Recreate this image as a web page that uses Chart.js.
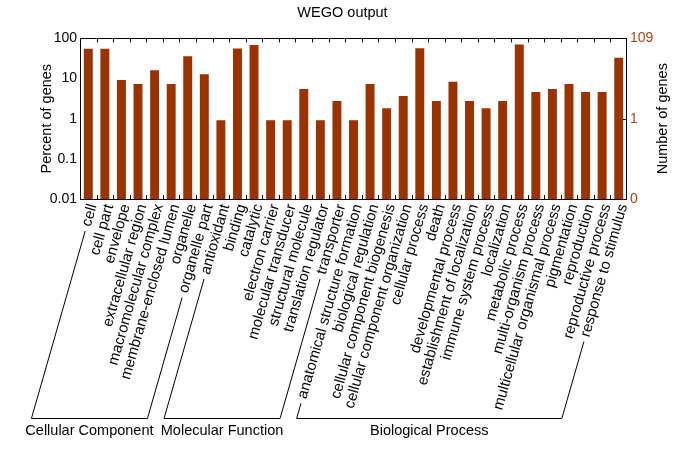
<!DOCTYPE html>
<html>
<head>
<meta charset="utf-8">
<script src="https://cdn.jsdelivr.net/npm/chart.js@4.4.1/dist/chart.umd.min.js"></script>
<style>
  html, body { margin: 0; padding: 0; background: #fff; }
</style>
</head>
<body>
<canvas id="wego" width="685" height="455"></canvas>
<script>
// GO terms (x axis), in plot order
const categories = [
  "cell", "cell part", "envelope", "extracellular region",
  "macromolecular complex", "membrane-enclosed lumen", "organelle", "organelle part",
  "antioxidant", "binding", "catalytic", "electron carrier",
  "molecular transducer", "structural molecule", "translation regulator", "transporter",
  "anatomical structure formation", "biological regulation", "cellular component biogenesis",
  "cellular component organization", "cellular process", "death", "developmental process",
  "establishment of localization", "immune system process", "localization",
  "metabolic process", "multi-organism process", "multicellular organismal process",
  "pigmentation", "reproduction", "reproductive process", "response to stimulus"
];

// percent of genes
const percentGenes = [
  55.0, 55.0, 9.2, 7.3,
  16.0, 7.3, 36.0, 12.8,
  0.92, 56.0, 68.0, 0.92,
  0.92, 5.5, 0.92, 2.75,
  0.92, 7.3, 1.83,
  3.67, 57.0, 2.75, 8.3,
  2.75, 1.83, 2.75,
  70.6, 4.6, 5.5,
  7.3, 4.6, 4.6, 33.0
];

// GO top-level groups
const groupNames = ["Cellular Component", "Molecular Function", "Biological Process"];
const groupFirst = [0, 8, 16];
const groupLast = [7, 15, 32];

// axis ticks
const leftTicks = [0.01, 0.1, 1, 10, 100];
const rightTicks = [0.01, 1, 100];
const rightTickLabels = ["0", "1", "109"];

const BAR = "#993300";
const FONT = "'Liberation Sans', Arial, Helvetica, sans-serif";
const ROT = 74;
const LABEL_SHIFT = 4.5;
const LABEL_SIZE = 15;

const decorations = {
  id: "decorations",
  afterDraw(chart) {
    const { ctx, chartArea: a, scales } = chart;
    const xs = scales.x;
    ctx.save();

    // plot box
    ctx.strokeStyle = "#000";
    ctx.lineWidth = 1;
    ctx.strokeRect(Math.round(a.left) + 0.5, Math.round(a.top) + 0.5,
      Math.round(a.right - a.left) - 1, Math.round(a.bottom - a.top));

    // inward tick marks at category boundaries
    ctx.beginPath();
    const n = categories.length;
    for (let i = 1; i < n; i++) {
      const x = Math.round((xs.getPixelForValue(i - 1) + xs.getPixelForValue(i)) / 2) + 0.5;
      ctx.moveTo(x, a.top);
      ctx.lineTo(x, a.top + 4);
      ctx.moveTo(x, a.bottom);
      ctx.lineTo(x, a.bottom - 4);
    }
    const y1 = Math.round(scales.y2.getPixelForValue(1)) + 0.5;
    ctx.moveTo(a.right, y1);
    ctx.lineTo(a.right - 4, y1);
    ctx.stroke();

    // axis titles
    ctx.fillStyle = "#000";
    ctx.font = "14.5px " + FONT;
    ctx.textAlign = "center";
    ctx.textBaseline = "middle";
    const midY = (a.top + a.bottom) / 2;
    ctx.save();
    ctx.translate(47, midY);
    ctx.rotate(-Math.PI / 2);
    ctx.fillText("Percent of genes", 0, 0);
    ctx.restore();
    ctx.save();
    ctx.translate(663, midY);
    ctx.rotate(-Math.PI / 2);
    ctx.fillText("Number of genes", 0, 0);
    ctx.restore();

    // group brackets under the rotated labels
    const th = ROT * Math.PI / 180;
    const lh = LABEL_SIZE * 1.2;
    const y0 = xs.top + xs.options.ticks.padding;
    const baseY = 418.5;
    ctx.font = LABEL_SIZE + "px " + FONT;
    const labelStart = (i, gap) => {
      const w = ctx.measureText(categories[i]).width;
      const px = xs.getPixelForValue(i) + LABEL_SHIFT;
      const sx = px - (w + gap) * Math.cos(th);
      const sy = y0 + lh / 2 * Math.cos(th) + (w + gap) * Math.sin(th);
      return [sx, sy];
    };
    const ends = groupNames.map((_, g) => [labelStart(groupFirst[g], 5), labelStart(groupLast[g], 5)]);
    ctx.font = "14.5px " + FONT;
    ctx.lineWidth = 1;
    for (let g = 0; g < groupNames.length; g++) {
      const [[ax, ay], [bx, by]] = ends[g];
      const axb = ax - (baseY - ay) / Math.tan(th);
      const bxb = bx - (baseY - by) / Math.tan(th);
      ctx.beginPath();
      ctx.moveTo(ax, ay);
      ctx.lineTo(axb, baseY);
      ctx.lineTo(bxb, baseY);
      ctx.lineTo(bx, by);
      ctx.stroke();
      ctx.fillText(groupNames[g], (axb + bxb) / 2, 431);
    }
    ctx.restore();
  }
};

new Chart(document.getElementById("wego"), {
  type: "bar",
  data: {
    labels: categories,
    datasets: [
      {
        label: "Percent of genes",
        data: percentGenes,
        backgroundColor: BAR,
        borderWidth: 0,
        barPercentage: 0.54,
        categoryPercentage: 1,
      },
    ],
  },
  options: {
    responsive: false,
    animation: false,
    devicePixelRatio: 1,
    layout: { padding: 0 },
    plugins: {
      legend: { display: false },
      tooltip: { enabled: false },
      title: {
        display: true,
        text: "WEGO output",
        color: "#000",
        font: { family: FONT, size: 14.5, weight: "normal" },
        padding: { top: 4, bottom: 17 },
      },
    },
    scales: {
      x: {
        type: "category",
        offset: true,
        grid: { display: false, drawTicks: false },
        border: { display: false },
        ticks: {
          autoSkip: false,
          minRotation: ROT,
          maxRotation: ROT,
          padding: 3,
          labelOffset: LABEL_SHIFT,
          color: "#000",
          font: { family: FONT, size: LABEL_SIZE },
        },
        afterFit: (s) => { s.height = 256; },
      },
      y: {
        type: "logarithmic",
        position: "left",
        min: 0.01,
        max: 100,
        grid: { display: false, drawTicks: false },
        border: { display: false },
        afterBuildTicks: (s) => { s.ticks = leftTicks.map((v) => ({ value: v })); },
        ticks: {
          padding: 3,
          color: "#000",
          font: { family: FONT, size: 14 },
          callback: (v) => String(v),
        },
        afterFit: (s) => { s.width = 80; },
      },
      y2: {
        type: "logarithmic",
        position: "right",
        min: 0.01,
        max: 100,
        grid: { display: false, drawTicks: false },
        border: { display: false },
        afterBuildTicks: (s) => { s.ticks = rightTicks.map((v) => ({ value: v })); },
        ticks: {
          padding: 3,
          color: "#a8441c",
          font: { family: FONT, size: 14 },
          callback: (v, i) => rightTickLabels[i],
        },
        afterFit: (s) => { s.width = 58; },
      },
    },
  },
  plugins: [decorations],
});
</script>
</body>
</html>
